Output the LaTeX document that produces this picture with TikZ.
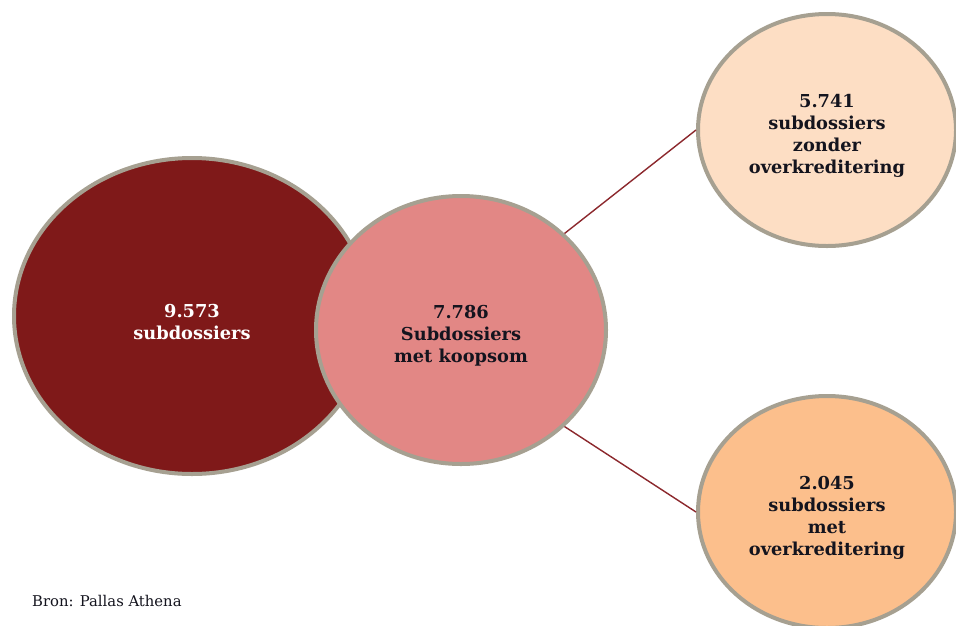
\documentclass[tikz,border=0pt]{standalone}
\usepackage{fontspec}
\setmainfont{DejaVu Serif}
\usetikzlibrary{shapes.geometric}
\definecolor{bigred}{RGB}{127,25,25}
\definecolor{midpink}{RGB}{226,135,133}
\definecolor{peachlight}{RGB}{253,222,196}
\definecolor{peachdark}{RGB}{252,191,140}
\definecolor{rimgrey}{RGB}{166,160,145}
\definecolor{linkred}{RGB}{140,40,45}
\definecolor{txtdark}{RGB}{20,20,30}
\tikzset{
  blob/.style={ellipse, draw=rimgrey, line width=4pt, inner sep=0pt},
  blobtext/.style={align=center, inner sep=0pt, yshift=-6pt,
    font=\fontsize{17.8}{21.8}\selectfont\bfseries, text=txtdark},
  link/.style={draw=linkred, line width=1.4pt}
}
\begin{document}
\begin{tikzpicture}[x=1pt,y=-1pt]
\useasboundingbox (0,0) rectangle (956,625);
\clip (0,0) rectangle (956,625);
\fill[white] (0,0) rectangle (956,625);
\node[blob, fill=bigred, minimum width=356pt, minimum height=316pt] (all) at (192,316) {};
\node[blob, fill=midpink, minimum width=290pt, minimum height=268pt] (koop) at (461,330) {};
\node[blob, fill=peachlight, minimum width=258pt, minimum height=232pt] (zonder) at (827,130) {};
\node[blob, fill=peachdark, minimum width=258pt, minimum height=232pt] (met) at (827,512) {};
\node[blobtext, text=white] (allt) at (all.center) {9.573\\subdossiers};
\node[blobtext] (koopt) at (koop.center) {7.786\\Subdossiers\\met koopsom};
\node[blobtext] (zondert) at (zonder.center) {5.741\\subdossiers\\zonder\\overkreditering};
\node[blobtext] (mett) at (met.center) {2.045\\subdossiers\\met\\overkreditering};
\draw[link] (koop.43) -- (zonder.west);
\draw[link] (koop.-43) -- (met.west);
\node[anchor=base west, font=\fontsize{14.8}{17}\selectfont, text=txtdark, inner sep=0pt] (src) at (32,606) {Bron: Pallas Athena};
\end{tikzpicture}
\end{document}
